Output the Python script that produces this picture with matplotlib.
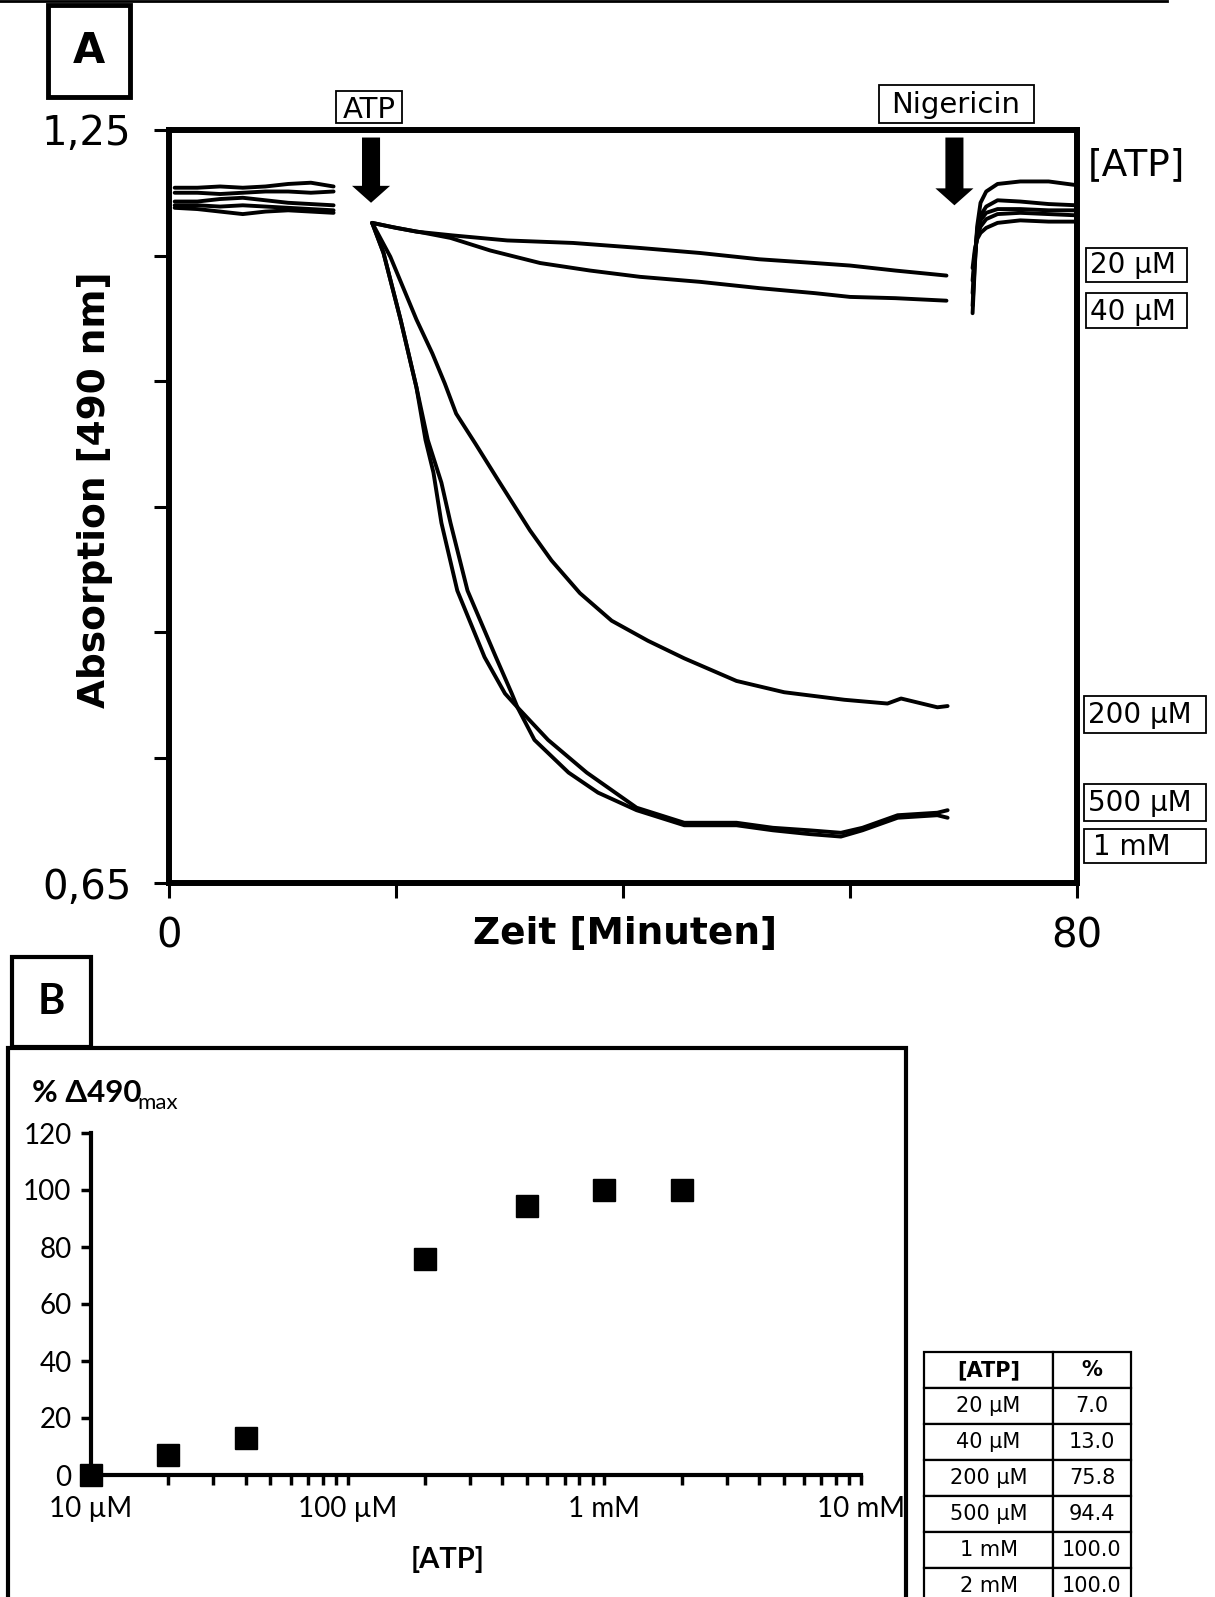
import numpy as np
import matplotlib
matplotlib.use("Agg")
import matplotlib.pyplot as plt
from matplotlib.patches import Rectangle
from matplotlib.lines import Line2D
from matplotlib.ticker import FixedLocator, NullFormatter

plt.rcParams["font.family"] = ["DejaVu Sans"]

W, H = 1215, 1597
LATO = ["Lato", "DejaVu Sans"]

# ============================================================
# Data, panel A: absorption at 490 nm vs time (min)
# ============================================================
conc_labels = ["20 µM", "40 µM", "200 µM", "500 µM", "1 mM"]

# before ATP addition
t_pre = [0.5, 2.5, 4.5, 6.5, 8.5, 10.5, 12.5, 14.5]
pre_20 = [1.204, 1.204, 1.205, 1.204, 1.205, 1.207, 1.208, 1.205]
pre_40 = [1.200, 1.200, 1.199, 1.200, 1.201, 1.201, 1.200, 1.201]
pre_200 = [1.193, 1.193, 1.195, 1.196, 1.194, 1.192, 1.191, 1.190]
pre_500 = [1.190, 1.190, 1.189, 1.190, 1.189, 1.188, 1.187, 1.186]
pre_1000 = [1.188, 1.187, 1.185, 1.183, 1.185, 1.186, 1.185, 1.184]

# after ATP addition
t_20 = [17.9, 19.5, 21.8, 25.0, 29.8, 35.6, 41.5, 46.8, 52.0, 56.9, 60.0, 64.0, 68.5]
a_20 = [1.176, 1.173, 1.169, 1.166, 1.162, 1.160, 1.156, 1.152, 1.147, 1.144, 1.142, 1.138, 1.134]

t_40 = [17.9, 20.0, 22.5, 24.8, 28.3, 32.7, 37.1, 41.5, 46.8, 52.0, 56.9, 60.0, 64.0, 68.5]
a_40 = [1.176, 1.172, 1.168, 1.164, 1.154, 1.144, 1.138, 1.133, 1.129, 1.124, 1.120, 1.117, 1.116, 1.114]

t_200 = [17.9, 19.5, 21.8, 23.2, 24.3, 25.3, 27.0, 29.0, 31.8, 33.7, 36.2, 39.0, 42.2, 45.4,
         50.0, 54.2, 59.5, 63.3, 64.5, 67.7, 68.6]
a_200 = [1.176, 1.149, 1.099, 1.072, 1.048, 1.024, 1.000, 0.971, 0.931, 0.907, 0.881, 0.859, 0.843,
         0.829, 0.811, 0.802, 0.796, 0.793, 0.797, 0.790, 0.791]

t_500 = [17.9, 18.9, 20.4, 21.8, 22.8, 24.0, 24.8, 26.3, 28.8, 30.2, 30.7, 32.2, 35.2,
         37.8, 41.2, 45.4, 50.0, 53.2, 56.4, 59.2, 61.1, 64.2, 67.7, 68.6]
a_500 = [1.176, 1.152, 1.099, 1.045, 1.003, 0.969, 0.937, 0.883, 0.830, 0.801, 0.790, 0.764, 0.738,
         0.722, 0.708, 0.696, 0.696, 0.692, 0.689, 0.687, 0.692, 0.702, 0.704, 0.702]

t_1000 = [17.9, 18.9, 20.4, 21.8, 22.6, 23.3, 24.0, 25.4, 27.8, 29.6, 30.7, 33.4, 36.8,
          39.0, 41.2, 45.4, 50.0, 53.2, 56.4, 59.2, 61.1, 64.2, 67.7, 68.6]
a_1000 = [1.176, 1.152, 1.099, 1.045, 1.003, 0.977, 0.937, 0.883, 0.830, 0.801, 0.790, 0.764, 0.738,
          0.724, 0.710, 0.698, 0.698, 0.694, 0.692, 0.690, 0.694, 0.704, 0.706, 0.708]

# after nigericin addition
t_nig = [70.8, 71.0, 71.2, 71.5, 72.0, 73.0, 75.0, 77.5, 80.0]
nig_20 = [1.104, 1.142, 1.173, 1.192, 1.201, 1.207, 1.209, 1.209, 1.206]
nig_40 = [1.110, 1.145, 1.170, 1.182, 1.189, 1.194, 1.193, 1.191, 1.190]
nig_200 = [1.120, 1.150, 1.168, 1.178, 1.184, 1.187, 1.187, 1.186, 1.186]
nig_500 = [1.130, 1.152, 1.165, 1.173, 1.179, 1.183, 1.184, 1.183, 1.182]
nig_1000 = [1.140, 1.155, 1.163, 1.168, 1.172, 1.176, 1.178, 1.177, 1.177]

t_atp_add = 17.8
t_nig_add = 69.2

# ============================================================
# Data, panel B: % of max change vs ATP concentration
# ============================================================
atp_um = [10, 20, 40, 200, 500, 1000, 2000]
pct = [0.0, 7.0, 13.0, 75.8, 94.4, 100.0, 100.0]

table_conc = ["20 µM", "40 µM", "200 µM", "500 µM", "1 mM", "2 mM"]
table_pct = ["7.0", "13.0", "75.8", "94.4", "100.0", "100.0"]


def fbox(x0, y0, x1, y1):
    """pixel box (top-left origin) -> figure fraction [l, b, w, h]"""
    return [x0 / W, 1 - y1 / H, (x1 - x0) / W, (y1 - y0) / H]


def fx(x):
    return x / W


def fy(y):
    return 1 - y / H


fig = plt.figure(figsize=(W / 100, H / 100), dpi=100)


def rect(x0, y0, x1, y1, lw):
    fig.patches.append(Rectangle((fx(x0), fy(y1)), fx(x1) - fx(x0), fy(y0) - fy(y1),
                                 transform=fig.transFigure, fill=False, ec="black",
                                 lw=lw, clip_on=False))


# ============================================================
# Panel A
# ============================================================
ax = fig.add_axes(fbox(169, 130, 1077, 883))
pre = [pre_20, pre_40, pre_200, pre_500, pre_1000]
post = [(t_20, a_20), (t_40, a_40), (t_200, a_200), (t_500, a_500), (t_1000, a_1000)]
nig = [nig_20, nig_40, nig_200, nig_500, nig_1000]
for p, (tt, aa), n in zip(pre, post, nig):
    kw = dict(color="black", lw=2.8, solid_capstyle="round", solid_joinstyle="round")
    ax.plot(t_pre, p, **kw)
    ax.plot(tt, aa, **kw)
    ax.plot(t_nig, n, **kw)

ax.set_xlim(0, 80)
ax.set_ylim(0.65, 1.25)
ax.set_xticks([0, 20, 40, 60, 80])
ax.set_xticklabels(["0", "", "", "", "80"])
ax.set_yticks(np.round(np.arange(0.65, 1.26, 0.1), 2))
ax.set_yticklabels(["0,65", "", "", "", "", "", "1,25"])
ax.tick_params(axis="both", direction="out", length=11, width=2.2, labelsize=29)
ax.tick_params(axis="x", pad=13)
ax.tick_params(axis="y", pad=16)
for s in ax.spines.values():
    s.set_linewidth(4.3)

arrow_kw = dict(arrowstyle="simple,head_length=1.22,head_width=2.74,tail_width=1.3",
                mutation_scale=10, fc="black", ec="none", shrinkA=0, shrinkB=0)
ax.annotate("", xy=(t_atp_add, 1.192), xytext=(t_atp_add, 1.244), arrowprops=arrow_kw)
ax.annotate("", xy=(t_nig_add, 1.190), xytext=(t_nig_add, 1.244), arrowprops=arrow_kw)

fig.text(fx(95), fy(490), "Absorption [490 nm]", rotation=90, ha="center", va="center",
         fontsize=27, fontweight="bold")
fig.text(fx(625), fy(934), "Zeit [Minuten]", ha="center", va="center",
         fontsize=27, fontweight="bold")

# "A" tag
rect(48, 5, 130, 97, 3.5)
fig.text(fx(89), fy(63), "A", ha="center", va="baseline", fontsize=30, fontweight="bold")

# event labels
rect(336, 91, 402, 123, 1.3)
fig.text(fx(369), fy(118), "ATP", ha="center", va="baseline", fontsize=21)
rect(879, 85, 1034, 123, 1.3)
fig.text(fx(956), fy(113), "Nigericin", ha="center", va="baseline", fontsize=21)

fig.text(fx(1088), fy(175), "[ATP]", ha="left", va="baseline", fontsize=27)

# concentration labels
lab_boxes = [(1086, 248, 1187, 282, 1090, 273), (1086, 293, 1187, 328, 1090, 320),
             (1084, 696, 1206, 733, 1088, 723), (1084, 784, 1206, 821, 1088, 811),
             (1084, 829, 1206, 863, 1093, 855)]
for lab, (x0, y0, x1, y1, tx, ty) in zip(conc_labels, lab_boxes):
    rect(x0, y0, x1, y1, 1.3)
    fig.text(fx(tx), fy(ty), lab, ha="left", va="baseline", fontsize=20)

# top rule
fig.lines.append(Line2D([0, fx(1167)], [fy(1), fy(1)], transform=fig.transFigure,
                        color="black", lw=2))

# ============================================================
# Panel B
# ============================================================
rect(8, 1048, 906, 1700, 3)
rect(12, 957, 91, 1047, 3)
fig.text(fx(51), fy(1014), "B", ha="center", va="baseline", fontsize=30,
         fontweight="bold", family=LATO)

axb = fig.add_axes(fbox(91, 1133, 861, 1475))
axb.plot(atp_um, pct, "s", color="black", ms=16.5, ls="none", clip_on=False, zorder=5)
axb.set_xscale("log")
axb.set_xlim(10, 10000)
axb.set_ylim(0, 120)
axb.spines["top"].set_visible(False)
axb.spines["right"].set_visible(False)
axb.spines["left"].set_linewidth(3)
axb.spines["bottom"].set_linewidth(3)
axb.set_yticks(range(0, 121, 20))
axb.xaxis.set_major_locator(FixedLocator([10, 100, 1000, 10000]))
axb.set_xticklabels(["10 µM", "100 µM", "1 mM", "10 mM"])
minors = [m * d for d in (10, 100, 1000) for m in range(2, 10)]
axb.xaxis.set_minor_locator(FixedLocator(minors))
axb.xaxis.set_minor_formatter(NullFormatter())
axb.tick_params(axis="both", which="both", direction="out", length=7, width=2.5, labelsize=20)
axb.tick_params(axis="x", pad=8)
axb.tick_params(axis="y", pad=7)
for t in axb.get_xticklabels() + axb.get_yticklabels():
    t.set_fontfamily(LATO)

fig.text(fx(32), fy(1102), "% Δ490", ha="left", va="baseline", fontsize=22.5,
         fontweight="bold", family=LATO)
fig.text(fx(137), fy(1109), "max", ha="left", va="baseline", fontsize=16, family=LATO)
fig.text(fx(448), fy(1568), "[ATP]", ha="center", va="baseline", fontsize=21,
         fontweight="bold", family=LATO)

# table of values
axt = fig.add_axes(fbox(924, 1352, 1131, 1604))
axt.axis("off")
tbl = axt.table(cellText=[[c, p] for c, p in zip(table_conc, table_pct)],
                colLabels=["[ATP]", "%"], cellLoc="center", bbox=[0, 0, 1, 1],
                colWidths=[129 / 207, 78 / 207])
tbl.auto_set_font_size(False)
tbl.set_fontsize(15)
for (r, c), cell in tbl.get_celld().items():
    cell.set_linewidth(1.6)
    if r == 0:
        cell.get_text().set_fontweight("bold")

fig.savefig("out.png", dpi=100)
